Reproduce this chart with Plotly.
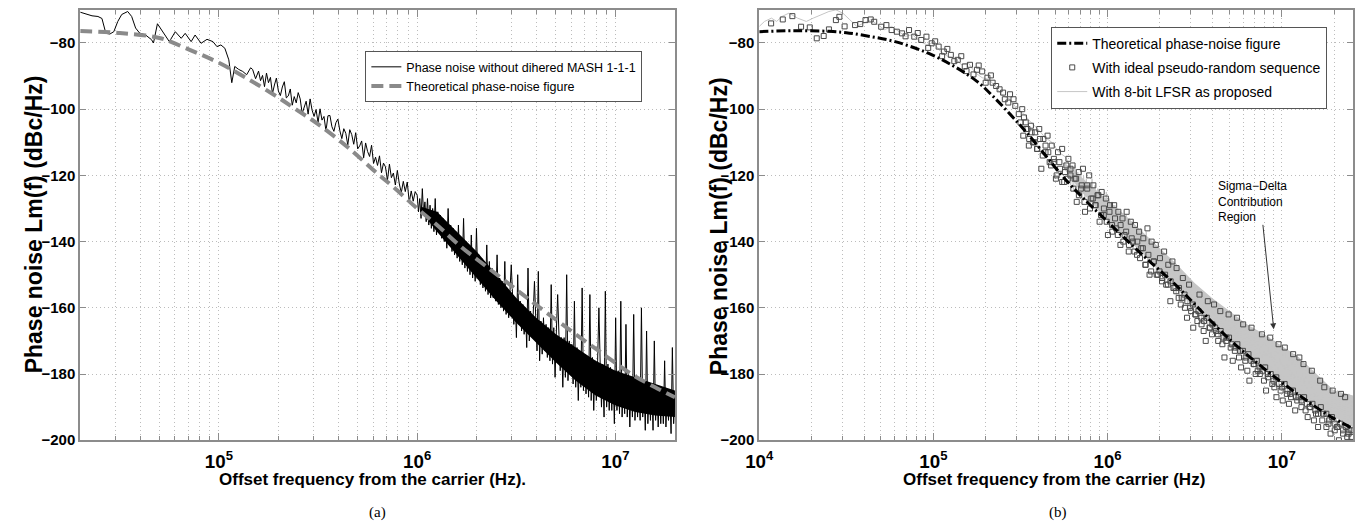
import numpy as np
import plotly.graph_objects as go

# ---------------- panel (a): MASH 1-1-1 without dithering ----------------
# theoretical curve (log10 offset frequency, dBc/Hz)
a_theory_logf = [4.30, 4.50, 4.70, 4.85, 5.00, 5.15, 5.30, 5.40, 5.50, 5.65, 5.80, 5.87,
                 6.00, 6.10, 6.22, 6.37, 6.50, 6.62, 6.80, 6.95, 7.08, 7.20, 7.30]
a_theory_db = [-76.4, -77.0, -78.5, -82.0, -86.0, -91.0, -96.5, -100.5, -104.5, -111.5, -119.5, -123.0,
               -130.0, -135.0, -141.5, -148.5, -154.5, -160.0, -168.0, -174.5, -180.0, -184.0, -187.0]

# measured spectrum, low offsets (log10 f, dBc/Hz)
a_meas_lo_logf = [4.300, 4.330, 4.360, 4.390, 4.410, 4.430, 4.450, 4.470, 4.490, 4.510, 4.540, 4.560,
                  4.580, 4.600, 4.630, 4.660, 4.670, 4.690, 4.710, 4.720, 4.750, 4.780, 4.810, 4.830,
                  4.860, 4.880, 4.910, 4.940, 4.970, 4.990, 5.010, 5.030, 5.050, 5.065, 5.080, 5.100,
                  5.120, 5.140, 5.160, 5.170, 5.185,
                  5.20, 5.21, 5.22, 5.23, 5.24, 5.25, 5.26, 5.27, 5.28, 5.29,
                  5.30, 5.31, 5.32, 5.33, 5.34, 5.35, 5.36, 5.37, 5.38, 5.39,
                  5.40, 5.41, 5.42, 5.43, 5.44, 5.45, 5.46, 5.47, 5.48, 5.49,
                  5.50, 5.51, 5.52, 5.53, 5.54, 5.55, 5.56, 5.57, 5.58, 5.59,
                  5.60, 5.61, 5.62, 5.63, 5.64, 5.65, 5.66, 5.67, 5.68, 5.69,
                  5.70, 5.71, 5.72, 5.73, 5.74, 5.75, 5.76, 5.77, 5.78, 5.79,
                  5.80, 5.81, 5.82, 5.83, 5.84, 5.85, 5.86, 5.87, 5.88, 5.89,
                  5.90, 5.91, 5.92, 5.93, 5.94, 5.95, 5.96, 5.97, 5.98, 5.99]
a_meas_lo_db = [-70.7, -71.3, -71.8, -72.0, -72.6, -77.1, -77.3, -76.6, -73.5, -71.4, -70.5, -72.0,
                -75.5, -77.0, -77.6, -79.0, -80.0, -74.2, -76.0, -77.1, -79.6, -76.6, -78.6, -77.1,
                -79.6, -77.6, -80.1, -78.9, -79.6, -81.1, -80.6, -81.6, -85.1, -92.0, -87.1, -88.0,
                -88.6, -89.6, -87.5, -88.0, -90.8,
                -88.5, -91.4, -89.8, -93.2, -89.1, -92.0, -90.4, -95.3, -92.7, -90.6,
                -94.5, -95.9, -93.3, -91.7, -96.6, -96.0, -93.9, -98.8, -96.2, -98.1,
                -95.0, -96.9, -101.3, -99.2, -97.6, -101.5, -96.9, -100.3, -102.2, -100.1,
                -104.0, -99.9, -103.3, -102.2, -106.6, -102.0, -101.9, -105.3, -106.7, -104.1,
                -103.0, -106.5, -108.9, -105.9, -107.3, -110.8, -106.2, -107.7, -110.6, -107.1,
                -112.0, -111.1, -109.6, -114.7, -110.2, -112.8, -114.3, -110.9, -116.4, -114.5,
                -117.0, -114.1, -119.2, -116.3, -117.4, -121.5, -116.6, -120.7, -119.3, -122.9,
                -118.5, -122.6, -125.2, -121.8, -124.9, -122.0, -128.1, -124.7, -127.8, -124.9]

# measured spectrum, high offsets: evenly spaced in log10 f over this span
a_meas_hi_span = (6.0, 7.3)
a_meas_hi_db = [
    -126, -131, -127, -133, -124, -132, -128, -134, -127, -135,
    -129, -136, -130, -137, -127, -138, -131, -136, -132, -139,
    -133, -140, -134, -142, -130, -141, -135, -143, -136, -144,
    -137, -145, -135, -146, -139, -147, -133, -148, -140, -149,
    -141, -150, -138, -151, -143, -152, -136, -151, -144, -153,
    -145, -154, -147, -155, -141, -156, -146, -157, -148, -157,
    -149, -158, -144, -159, -151, -160, -152, -161, -146, -162,
    -154, -163, -155, -147, -156, -165, -157, -169, -150, -165,
    -158, -167, -159, -168, -160, -172, -148, -170, -161, -168,
    -162, -152, -163, -173, -149, -176, -164, -174, -163, -173,
    -165, -175, -166, -176, -153, -177, -166, -181, -167, -156,
    -168, -179, -169, -184, -169, -181, -150, -182, -170, -180,
    -171, -183, -158, -184, -172, -188, -173, -184, -154, -185,
    -174, -186, -175, -187, -156, -188, -175, -191, -176, -188,
    -176, -160, -177, -190, -177, -193, -155, -190, -177, -191,
    -178, -191, -179, -195, -163, -191, -179, -192, -158, -193,
    -180, -192, -165, -193, -180, -196, -181, -193, -162, -194,
    -181, -193, -182, -194, -160, -193, -182, -197, -167, -195,
    -183, -194, -183, -197, -170, -194, -184, -196, -184, -195,
    -184, -195, -176, -196, -185, -194, -185, -198, -172, -195,
    -186]

# dense core of the measured spectrum (upper / lower edge)
a_core_logf = [6.02, 6.10, 6.20, 6.30, 6.40, 6.50, 6.60, 6.70, 6.80, 6.90, 7.00, 7.10, 7.20, 7.30]
a_core_upper = [-129.5, -131, -137, -143, -150, -157, -163, -168, -172, -176, -179, -181, -183, -185]
a_core_lower = [-131, -137, -144, -151, -158, -164.5, -170.5, -176.5, -182, -186.5, -189.5,
                -191.5, -192.5, -193]

# ---------------- panel (b): dithered modulator ----------------
b_theory_logf = [4.00, 4.20, 4.40, 4.50, 4.62, 4.78, 4.97, 5.12, 5.25, 5.34, 5.44, 5.55,
                 5.78, 6.01, 6.20, 6.38, 6.52, 6.71, 6.89, 7.09, 7.27, 7.41]
b_theory_db = [-76.6, -76.3, -76.5, -76.9, -77.9, -79.6, -83.1, -87.1, -91.6, -96.0, -101.5, -108.0,
               -122.5, -134.5, -144.0, -152.5, -160.0, -170.0, -178.0, -186.0, -192.5, -196.5]

# ideal pseudo-random sequence, low offsets (log10 f, dBc/Hz)
b_ideal_lo_logf = [4.068, 4.135, 4.190, 4.240, 4.290, 4.330, 4.370, 4.400, 4.440, 4.460, 4.490, 4.550,
                   4.580, 4.610, 4.640, 4.660, 4.700, 4.730, 4.760, 4.790, 4.820, 4.840, 4.860, 4.890,
                   4.910, 4.930, 4.960, 4.970, 4.990, 5.010, 5.030, 5.050, 5.060, 5.080, 5.100, 5.120,
                   5.140, 5.160, 5.180, 5.190, 5.210, 5.230, 5.250, 5.260, 5.280, 5.300, 5.310, 5.330,
                   5.340, 5.360, 5.380, 5.400, 5.410, 5.430, 5.440, 5.460, 5.470, 5.490, 5.510, 5.520,
                   5.530, 5.540, 5.550]
b_ideal_lo_db = [-74.1, -72.9, -71.9, -75.1, -75.3, -78.6, -77.9, -75.9, -73.1, -72.1, -75.0, -74.6,
                 -74.3, -73.1, -72.9, -73.6, -75.1, -74.6, -76.1, -76.6, -77.1, -78.0, -76.1, -78.1,
                 -77.0, -79.1, -78.1, -81.5, -80.1, -79.5, -81.1, -84.0, -82.6, -81.8, -83.6, -85.5,
                 -85.1, -84.0, -87.1, -88.5, -86.6, -89.5, -88.1, -86.8, -88.6, -92.0, -90.5, -89.8,
                 -92.0, -93.0, -94.0, -95.0, -97.0, -98.0, -95.5, -97.0, -99.0, -101.5, -100.0, -102.5,
                 -104.0, -106.0, -109.0]

# ideal pseudo-random sequence, high offsets: evenly spaced in log10 f over this span
b_ideal_hi_span = (5.56, 7.40)
b_ideal_hi_db = [
    -105, -110, -107, -112, -106, -118, -109, -113, -108, -116,
    -111, -116, -121, -113, -118, -112, -122, -117, -115, -120,
    -117, -121, -128, -119, -124, -118, -131, -123, -120, -127,
    -123, -129, -126, -134, -125, -132, -127, -138, -129, -135,
    -129, -136, -131, -141, -133, -138, -131, -143, -134, -140,
    -135, -144, -137, -142, -139, -147, -136, -150, -140, -146,
    -141, -150, -145, -152, -143, -153, -147, -158, -146, -154,
    -148, -157, -159, -151, -160, -163, -153, -161, -166, -162,
    -164, -156, -165, -167, -170, -158, -166, -168, -159, -167,
    -170, -161, -171, -175, -169, -162, -172, -176, -173, -163,
    -175, -178, -165, -176, -179, -182, -166, -177, -180, -179,
    -180, -168, -182, -185, -181, -169, -183, -184, -187, -171,
    -185, -188, -172, -186, -189, -187, -174, -191, -188, -175,
    -190, -177, -191, -193, -190, -179, -194, -192, -196, -182,
    -194, -184, -196, -195, -198, -185, -197, -196, -200, -186,
    -198, -187, -199, -197, -199]

# ideal pseudo-random sequence, interleaved bins: evenly spaced in log10 f over this span
b_ideal_mid_span = (5.50, 7.40)
b_ideal_mid_db = [
    -104, -108, -106, -111, -107, -110, -112, -109, -114, -111,
    -113, -117, -115, -120, -116, -122, -119, -121, -118, -124,
    -121, -126, -123, -128, -124, -130, -127, -129, -126, -132,
    -130, -134, -131, -137, -133, -138, -135, -140, -137, -141,
    -139, -143, -140, -145, -142, -147, -144, -149, -146, -150,
    -149, -151, -150, -153, -152, -154, -155, -154, -157, -156,
    -158, -160, -159, -162, -161, -163, -164, -163, -166, -165,
    -166, -168, -167, -169, -170, -169, -171, -172, -171, -173,
    -173, -175, -174, -176, -177, -176, -178, -179, -178, -180,
    -180, -182, -181, -183, -184, -183, -185, -186, -185, -187,
    -187, -188, -187, -189, -190, -189, -191, -192, -190, -192,
    -192, -194, -193, -195, -196, -195, -197, -196, -198, -197]

# 8-bit LFSR dither, low offsets (log10 f, dBc/Hz)
b_lfsr_lo_logf = [4.00, 4.03, 4.07, 4.10, 4.13, 4.17, 4.22, 4.27, 4.31, 4.36, 4.40, 4.44,
                  4.48, 4.52, 4.56, 4.60, 4.64, 4.68, 4.72, 4.76, 4.80, 4.84, 4.88, 4.92,
                  4.96, 5.00, 5.04, 5.08, 5.12, 5.16, 5.20, 5.24, 5.28, 5.32, 5.36, 5.40,
                  5.44, 5.48, 5.52, 5.56, 5.60, 5.64, 5.68, 5.72, 5.76]
b_lfsr_lo_db = [-75.0, -73.5, -72.5, -73.5, -72.0, -71.0, -72.5, -73.5, -72.5, -71.5, -70.5, -70.0,
                -71.0, -73.0, -75.0, -74.0, -73.0, -74.5, -76.0, -75.0, -76.5, -78.0, -77.5, -79.5,
                -80.5, -80.0, -82.5, -84.0, -84.5, -86.5, -86.0, -89.0, -90.5, -91.0, -93.5, -96.0,
                -97.0, -100.0, -101.5, -104.0, -106.0, -108.5, -110.0, -113.0, -114.5]

# 8-bit LFSR dither, high offsets: evenly spaced in log10 f over this span
b_lfsr_hi_span = (5.78, 7.41)
b_lfsr_hi_db = [
    -117, -123, -118, -125, -117, -124, -119, -126, -118, -127,
    -120, -127, -121, -129, -122, -128, -121, -130, -123, -131,
    -124, -131, -125, -133, -126, -132, -125, -134, -127, -135,
    -128, -135, -129, -137, -130, -138, -131, -137, -132, -139,
    -132, -140, -133, -141, -134, -142, -135, -141, -136, -143,
    -136, -144, -138, -145, -137, -147, -139, -146, -140, -148,
    -141, -149, -142, -151, -143, -150, -144, -152, -144, -153,
    -145, -153, -146, -155, -147, -156, -148, -157, -149, -158,
    -150, -158, -151, -160, -152, -161, -153, -162, -154, -162,
    -155, -163, -156, -164, -156, -165, -157, -166, -158, -166,
    -158, -167, -159, -168, -160, -169, -160, -170, -161, -170,
    -162, -170, -162, -172, -163, -172, -163, -173, -164, -174,
    -164, -174, -165, -176, -165, -176, -166, -177, -166, -178,
    -167, -178, -167, -180, -168, -180, -168, -181, -169, -181,
    -169, -182, -170, -183, -170, -184, -171, -184, -172, -184,
    -172, -185, -173, -186, -173, -187, -174, -187, -174, -187,
    -175, -188, -176, -189, -177, -189, -178, -190, -178, -190,
    -179, -191, -180, -192, -181, -192, -182, -193, -183, -193,
    -184, -194, -184, -195, -185, -195, -185, -196, -185, -196,
    -186, -196, -186, -197, -187, -197, -186, -198, -187, -198]

# dense body of the LFSR spectrum (upper / lower edge)
b_lfsr_core_logf = [5.75, 5.85, 5.95, 6.00, 6.10, 6.20, 6.30, 6.40, 6.50, 6.60, 6.70, 6.80,
                    6.90, 7.00, 7.10, 7.20, 7.30, 7.41]
b_lfsr_core_upper = [-116.0, -120.5, -125.0, -127.5, -132.0, -137.0, -142.0, -147.0, -152.5, -157.0,
                     -161.0, -165.0, -168.0, -171.5, -175.0, -180.0, -185.0, -186.5]
b_lfsr_core_lower = [-118.0, -125.0, -130.5, -133.5, -138.5, -143.5, -149.0, -154.5, -160.0, -165.0,
                     -169.5, -174.0, -178.0, -182.0, -186.0, -189.5, -193.0, -196.0]

# ---------------- assemble series ----------------
def hz(logs):
    return np.power(10.0, np.asarray(logs, dtype=float))

def even_grid(span, values):
    return np.logspace(span[0], span[1], len(values))

def band(logs, upper, lower):
    f = hz(logs)
    return np.concatenate([f, f[::-1]]), np.concatenate([upper, lower[::-1]])

a_meas_f = np.concatenate([hz(a_meas_lo_logf), even_grid(a_meas_hi_span, a_meas_hi_db)])
a_meas_y = np.concatenate([a_meas_lo_db, a_meas_hi_db])
a_core_f, a_core_y = band(a_core_logf, a_core_upper, a_core_lower)

b_ideal_f = np.concatenate([hz(b_ideal_lo_logf), even_grid(b_ideal_hi_span, b_ideal_hi_db),
                            even_grid(b_ideal_mid_span, b_ideal_mid_db)])
b_ideal_y = np.concatenate([b_ideal_lo_db, b_ideal_hi_db, b_ideal_mid_db])

b_lfsr_f = np.concatenate([hz(b_lfsr_lo_logf), even_grid(b_lfsr_hi_span, b_lfsr_hi_db)])
b_lfsr_y = np.concatenate([b_lfsr_lo_db, b_lfsr_hi_db])
b_core_f, b_core_y = band(b_lfsr_core_logf, b_lfsr_core_upper, b_lfsr_core_lower)

SANS = "Liberation Sans, Arial, Helvetica, sans-serif"
SERIF = "Liberation Serif, Times New Roman, serif"
FRAME = "#8c8c8c"
GRID = "#bcbcbc"
DOTS = "1px,3px"
LFSR_GRAY = "#c6c6c6"

fig = go.Figure()

# panel (a)
fig.add_trace(go.Scatter(
    x=a_core_f, y=a_core_y, mode="lines", fill="toself", fillcolor="black",
    line=dict(width=0, color="black"), xaxis="x", yaxis="y",
    showlegend=False, hoverinfo="skip", legend="legend"))
fig.add_trace(go.Scatter(
    x=a_meas_f, y=a_meas_y, mode="lines", xaxis="x", yaxis="y",
    line=dict(color="black", width=1),
    name="Phase noise without dihered MASH 1-1-1", legend="legend"))
fig.add_trace(go.Scatter(
    x=hz(a_theory_logf), y=a_theory_db, mode="lines", xaxis="x", yaxis="y",
    line=dict(color="#8a8a8a", width=4, dash="12px,6px", shape="spline"),
    name="Theoretical phase-noise figure", legend="legend"))

# panel (b)
fig.add_trace(go.Scatter(
    x=b_core_f, y=b_core_y, mode="lines", fill="toself", fillcolor=LFSR_GRAY,
    line=dict(width=0, color=LFSR_GRAY), xaxis="x2", yaxis="y2",
    showlegend=False, hoverinfo="skip", legend="legend2"))
fig.add_trace(go.Scatter(
    x=b_lfsr_f, y=b_lfsr_y, mode="lines", xaxis="x2", yaxis="y2",
    line=dict(color=LFSR_GRAY, width=1),
    name="With 8-bit LFSR as proposed", legend="legend2", legendrank=3, legendgroup="g3"))
fig.add_trace(go.Scatter(
    x=b_ideal_f, y=b_ideal_y, mode="markers", xaxis="x2", yaxis="y2",
    marker=dict(symbol="square-open", size=5, color="#4a4a4a", line=dict(width=1, color="#4a4a4a")),
    name="With ideal pseudo-random sequence", legend="legend2", legendrank=2, legendgroup="g2"))
fig.add_trace(go.Scatter(
    x=hz(b_theory_logf), y=b_theory_db, mode="lines", xaxis="x2", yaxis="y2",
    line=dict(color="black", width=3, dash="9px,3px,2px,3px", shape="spline"),
    name="Theoretical phase-noise figure", legend="legend2", legendrank=1, legendgroup="g1"))

tickfont = dict(family=SANS, size=15, color="black", weight="bold")

def xaxis_cfg(rng, domain, anchor):
    return dict(
        type="log", range=rng, domain=domain, anchor=anchor,
        dtick=1, exponentformat="power", tickfont=tickfont, ticklabelstandoff=4,
        showline=True, linecolor=FRAME, linewidth=2, mirror="ticks",
        ticks="inside", ticklen=7, tickcolor=FRAME, tickwidth=1,
        showgrid=True, gridcolor=GRID, griddash=DOTS, gridwidth=1, zeroline=False,
        minor=dict(dtick="D1", ticks="inside", ticklen=4, tickcolor=FRAME,
                   showgrid=True, gridcolor=GRID, griddash=DOTS, gridwidth=1),
    )

def yaxis_cfg(domain, anchor):
    return dict(
        range=[-200, -70], domain=domain, anchor=anchor,
        tick0=-200, dtick=20, tickfont=tickfont,
        showline=True, linecolor=FRAME, linewidth=2, mirror="ticks",
        ticks="inside", ticklen=6, tickcolor=FRAME, tickwidth=1,
        showgrid=True, gridcolor=GRID, griddash=DOTS, gridwidth=1, zeroline=False,
    )

W, H = 1364, 529
ydom = [1 - 447 / H, 1 - 10 / H]

fig.update_layout(
    width=W, height=H, margin=dict(l=0, r=0, t=0, b=0),
    paper_bgcolor="white", plot_bgcolor="white",
    showlegend=True,
    xaxis=xaxis_cfg([np.log10(2e4), np.log10(2e7)], [67 / W, 668 / W], "y"),
    yaxis=yaxis_cfg(ydom, "x"),
    xaxis2=xaxis_cfg([4.0, 7.41], [753 / W, 1353 / W], "y2"),
    yaxis2=yaxis_cfg(ydom, "x2"),
    legend=dict(x=355 / W, y=1 - 52 / H, xanchor="left", yanchor="top",
                bgcolor="white", bordercolor="#555555", borderwidth=1,
                font=dict(family=SANS, size=12.5, color="black"), itemwidth=30, tracegroupgap=0),
    legend2=dict(x=1048 / W, y=1 - 27 / H, xanchor="left", yanchor="top",
                 bgcolor="white", bordercolor="#555555", borderwidth=1,
                 font=dict(family=SANS, size=14, color="black"), itemwidth=30,
                 traceorder="grouped", tracegroupgap=3),
)

title_font = dict(family=SANS, size=17, color="black", weight="bold")
ytitle_font = dict(family=SANS, size=23, color="black", weight="bold")

def paper_text(text, px, py, font, **kw):
    return dict(text=text, x=px / W, y=1 - py / H, xref="paper", yref="paper",
                xanchor="center", yanchor="middle", showarrow=False, font=font, **kw)

annotations = [
    paper_text("Offset frequency from the carrier (Hz).", 362, 487, title_font),
    paper_text("Offset frequency from the carrier (Hz)", 1051, 487, title_font),
    paper_text("Phase noise Lm(f) (dBc/Hz)", 20, 228, ytitle_font, textangle=-90),
    paper_text("Phase noise Lm(f) (dBc/Hz)", 712, 230, ytitle_font, textangle=-90),
    paper_text("(a)", 367, 520, dict(family=SERIF, size=15, color="black")),
    paper_text("(b)", 1055, 520, dict(family=SERIF, size=15, color="black")),
    dict(text="Sigma\u2212Delta<br>Contribution<br>Region", align="left",
         x=6.62, y=-120.5, xref="x2", yref="y2", xanchor="left", yanchor="top",
         showarrow=False, font=dict(family=SANS, size=12, color="black")),
    dict(text="", x=np.log10(9.0e6), y=-166.5, xref="x2", yref="y2",
         ax=-11, ay=-106, showarrow=True, arrowhead=2, arrowsize=1.2,
         arrowwidth=1, arrowcolor="#333333"),
]
fig.update_layout(annotations=annotations)

fig.write_html("out.html")
